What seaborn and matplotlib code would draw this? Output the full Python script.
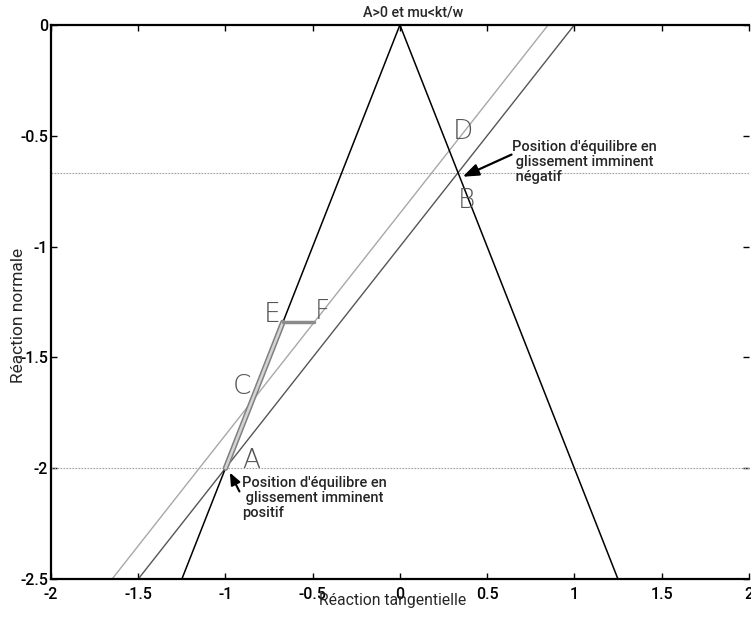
import matplotlib
matplotlib.use("Agg")
import matplotlib.pyplot as plt
import seaborn as sns
import pandas as pd

# Friction cone (Coulomb limits) in the (tangential, normal) reaction plane
cone_x = [-1.25, 0.0, 1.25]
cone_y = [-2.5, 0.0, -2.5]

# Equilibrium lines
line_cd_x = [-1.65, 0.85]
line_cd_y = [-2.5, 0.0]
line_ab_x = [-1.5, 1.0]
line_ab_y = [-2.5, 0.0]

# Path along the cone edge, then horizontal step E -> F
path_x = [-1.0, -0.671]
path_y = [-2.0, -1.342]
step_x = [-0.671, -0.492]
step_y = [-1.342, -1.342]

# Horizontal levels of the two equilibrium positions
levels_y = [-2.0 / 3.0, -2.0]

# Point labels
point_names = ["A", "B", "C", "D", "E", "F"]
point_x = [-0.85, 0.38, -0.905, 0.36, -0.735, -0.447]
point_y = [-1.965, -0.79, -1.63, -0.48, -1.305, -1.292]

x_ticks = [-2, -1.5, -1, -0.5, 0, 0.5, 1, 1.5, 2]
y_ticks = [-2.5, -2, -1.5, -1, -0.5, 0]

sns.set_theme(style="ticks")
plt.rcParams["font.family"] = ["Roboto", "Liberation Sans", "DejaVu Sans"]

fig = plt.figure(figsize=(7.51, 6.17), dpi=100)
ax = fig.add_axes([0.068, 0.0616, 0.929, 0.898])

def seg(xs, ys):
    return pd.DataFrame({"x": xs, "y": ys, "o": range(len(xs))})

for y0 in levels_y:
    ax.axhline(y0, color="#a0a0a0", lw=0.8, ls=(0, (1.5, 1.2)), zorder=1)

sns.lineplot(data=seg(line_cd_x, line_cd_y), x="x", y="y", sort=False,
             color="#a8a8a8", lw=1.0, ax=ax, zorder=2)
sns.lineplot(data=seg(line_ab_x, line_ab_y), x="x", y="y", sort=False,
             color="#555555", lw=1.0, ax=ax, zorder=2)
sns.lineplot(data=seg(cone_x, cone_y), x="x", y="y", sort=False,
             color="black", lw=1.1, ax=ax, zorder=3)
# double-edged grey band for the path, drawn over the cone edge
sns.lineplot(data=seg(path_x, path_y), x="x", y="y", sort=False,
             color="#808080", lw=4.0, ax=ax, zorder=4)
sns.lineplot(data=seg(path_x, path_y), x="x", y="y", sort=False,
             color="#d4d4d4", lw=1.8, ax=ax, zorder=4)
sns.lineplot(data=seg(step_x, step_y), x="x", y="y", sort=False,
             color="#8a8a8a", lw=2.5, ax=ax, zorder=4)

for name, px, py in zip(point_names, point_x, point_y):
    ax.text(px, py, name, fontsize=19, color="#555555", ha="center",
            va="center", family=["DejaVu Sans"], fontweight="ultralight",
            zorder=5)

ax.text(0.642, -0.62, "Position d'équilibre en\n glissement imminent\n négatif",
        fontsize=10.5, fontweight="medium", ha="left", va="center",
        linespacing=1.1, zorder=6)
ax.annotate("", xy=(0.36, -0.685), xytext=(0.64, -0.585),
            arrowprops=dict(arrowstyle="-|>,head_length=0.8,head_width=0.3",
                            color="black", lw=1.6, shrinkA=0, shrinkB=0))

ax.text(-0.905, -2.135, "Position d'équilibre en\n glissement imminent\npositif",
        fontsize=10.5, fontweight="medium", ha="left", va="center",
        linespacing=1.1, zorder=6)
ax.annotate("", xy=(-0.975, -2.02), xytext=(-0.92, -2.105),
            arrowprops=dict(arrowstyle="-|>,head_length=0.6,head_width=0.25",
                            color="black", lw=1.5, shrinkA=0, shrinkB=0))

ax.set_xlim(-2, 2)
ax.set_ylim(-2.5, 0)
ax.set_xticks(x_ticks)
ax.set_xticklabels([f"{v:g}" for v in x_ticks])
ax.set_yticks(y_ticks)
ax.set_yticklabels([f"{v:g}" for v in y_ticks])
ax.tick_params(direction="in", length=4, width=1, top=True, right=True,
               labelsize=11.5, pad=6, colors="black")
ax.tick_params(axis="y", pad=2)
for lab in ax.get_xticklabels() + ax.get_yticklabels():
    lab.set_fontweight("medium")
for side in ["left", "top", "bottom"]:
    ax.spines[side].set_linewidth(1.6)
    ax.spines[side].set_color("black")
ax.spines["right"].set_visible(False)

ax.set_xlabel("Réaction tangentielle", fontsize=11.3)
ax.xaxis.set_label_coords(0.489, -0.026)
ax.set_ylabel("Réaction normale", fontsize=12.5)
ax.yaxis.set_label_coords(-0.036, 0.476)
ax.text(0.519, 1.023, "A>0 et mu<kt/w", transform=ax.transAxes, fontsize=10.3,
        fontweight="medium", ha="center", va="center")

fig.savefig("out.png", dpi=100)
